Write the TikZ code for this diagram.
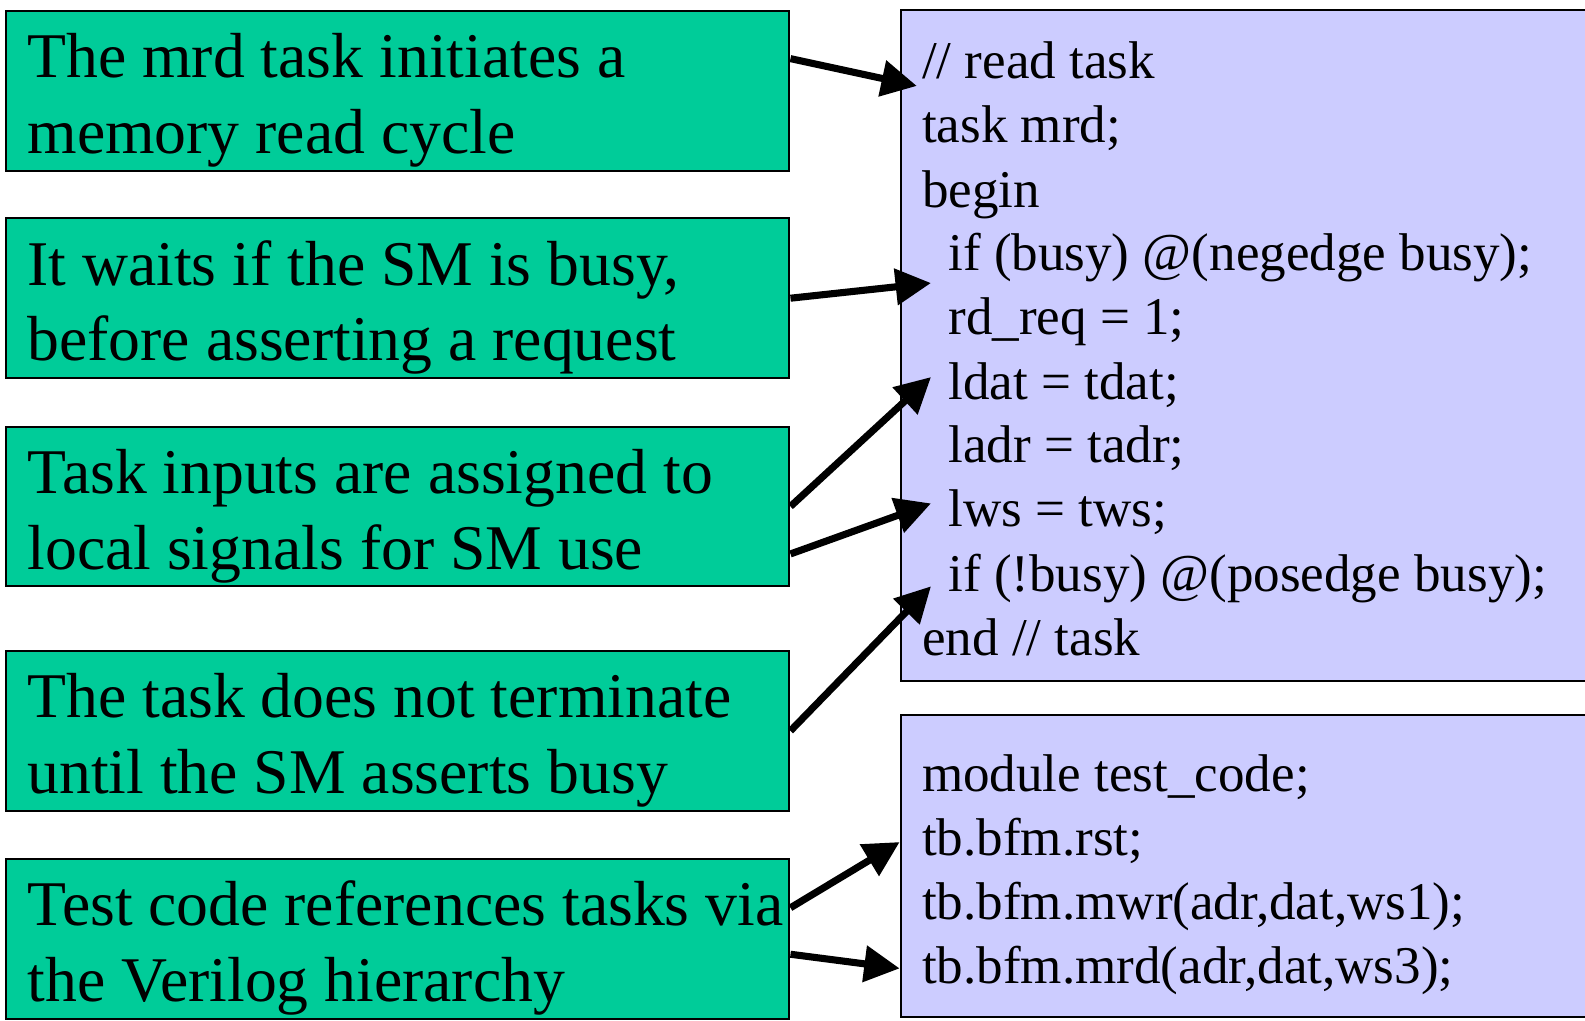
\documentclass[tikz,border=0pt]{standalone}
\usepackage{fontspec}
\setmainfont{Liberation Serif}
\usetikzlibrary{arrows.meta}
\definecolor{notegreen}{RGB}{0,204,153}
\definecolor{codeblue}{RGB}{204,204,255}
\begin{document}
\begin{tikzpicture}[x=1pt,y=-1pt,
  gbox/.style={draw=black, line width=2pt, fill=notegreen, anchor=north west,
    minimum width=775pt, minimum height=158pt, inner sep=0pt},
  cbox/.style={draw=black, line width=2pt, fill=codeblue},
  gtext/.style={anchor=base west, inner sep=0pt, font=\fontsize{63pt}{75pt}\selectfont},
  ctext/.style={anchor=base west, inner sep=0pt, font=\fontsize{52.5pt}{63pt}\selectfont},
  arr/.style={line width=7pt, -{Triangle[length=35pt, width=35pt]}}]
\useasboundingbox (0,0) rectangle (1568,1010);
\clip (0,0) rectangle (1568,1010);
\fill[white] (0,0) rectangle (1568,1010);

% explanation boxes on the left
\node[gbox] (g1) at (5,10) {};
\node[gbox] (g2) at (5,215) {};
\node[gbox] (g3) at (5,421) {};
\node[gbox] (g4) at (5,643) {};
\node[gbox] (g5) at (5,849) {};

\node[gtext] (g1a) at (27,77) {The mrd task initiates a};
\node[gtext] (g1b) at (27,152) {memory read cycle};
\node[gtext] (g2a) at (27,282) {It waits if the SM is busy,};
\node[gtext] (g2b) at (27,357) {before asserting a request};
\node[gtext] (g3a) at (27,488) {Task inputs are assigned to};
\node[gtext] (g3b) at (27,563) {local signals for SM use};
\node[gtext] (g4a) at (27,710) {The task does not terminate};
\node[gtext] (g4b) at (27,785) {until the SM asserts busy};
\node[gtext] (g5a) at (27,916) {Test code references tasks via};
\node[gtext] (g5b) at (27,991) {the Verilog hierarchy};

% code panels on the right
\draw[cbox] (891,10) rectangle (1620,674);
\draw[cbox] (891,707) rectangle (1620,1006);

\node[ctext] (c1)  at (912,78)  {// read task};
\node[ctext] (c2)  at (912,141) {task mrd;};
\node[ctext] (c3)  at (912,205) {begin};
\node[ctext] (c4)  at (938,268) {if (busy) @(negedge busy);};
\node[ctext] (c5)  at (938,331) {rd\_req = 1;};
\node[ctext] (c6)  at (938,395) {ldat = tdat;};
\node[ctext] (c7)  at (938,458) {ladr = tadr;};
\node[ctext] (c8)  at (938,521) {lws = tws;};
\node[ctext] (c9)  at (938,585) {if (!busy) @(posedge busy);};
\node[ctext] (c10) at (912,648) {end // task};

\node[ctext] (m1) at (912,783) {module test\_code;};
\node[ctext] (m2) at (912,846) {tb.bfm.rst;};
\node[ctext] (m3) at (912,910) {tb.bfm.mwr(adr,dat,ws1);};
\node[ctext] (m4) at (912,973) {tb.bfm.mrd(adr,dat,ws3);};

% arrow tips, just left of the code lines they point to
\coordinate (t1) at (907,85);
\coordinate (t2) at (921,280);
\coordinate (t3) at (921,373);
\coordinate (t4) at (921,498);
\coordinate (t5) at (921,580);
\coordinate (t6) at (890,833);
\coordinate (t7) at (890,958);

\draw[arr] ([yshift=32pt]g1.east) -- (t1);
\draw[arr] (g2.east) -- (t2);
\draw[arr] (g3.east) -- (t3);
\draw[arr] ([yshift=-47pt]g3.east) -- (t4);
\draw[arr] (g4.east) -- (t5);
\draw[arr] ([yshift=31pt]g5.east) -- (t6);
\draw[arr] ([yshift=-15pt]g5.east) -- (t7);
\end{tikzpicture}
\end{document}
